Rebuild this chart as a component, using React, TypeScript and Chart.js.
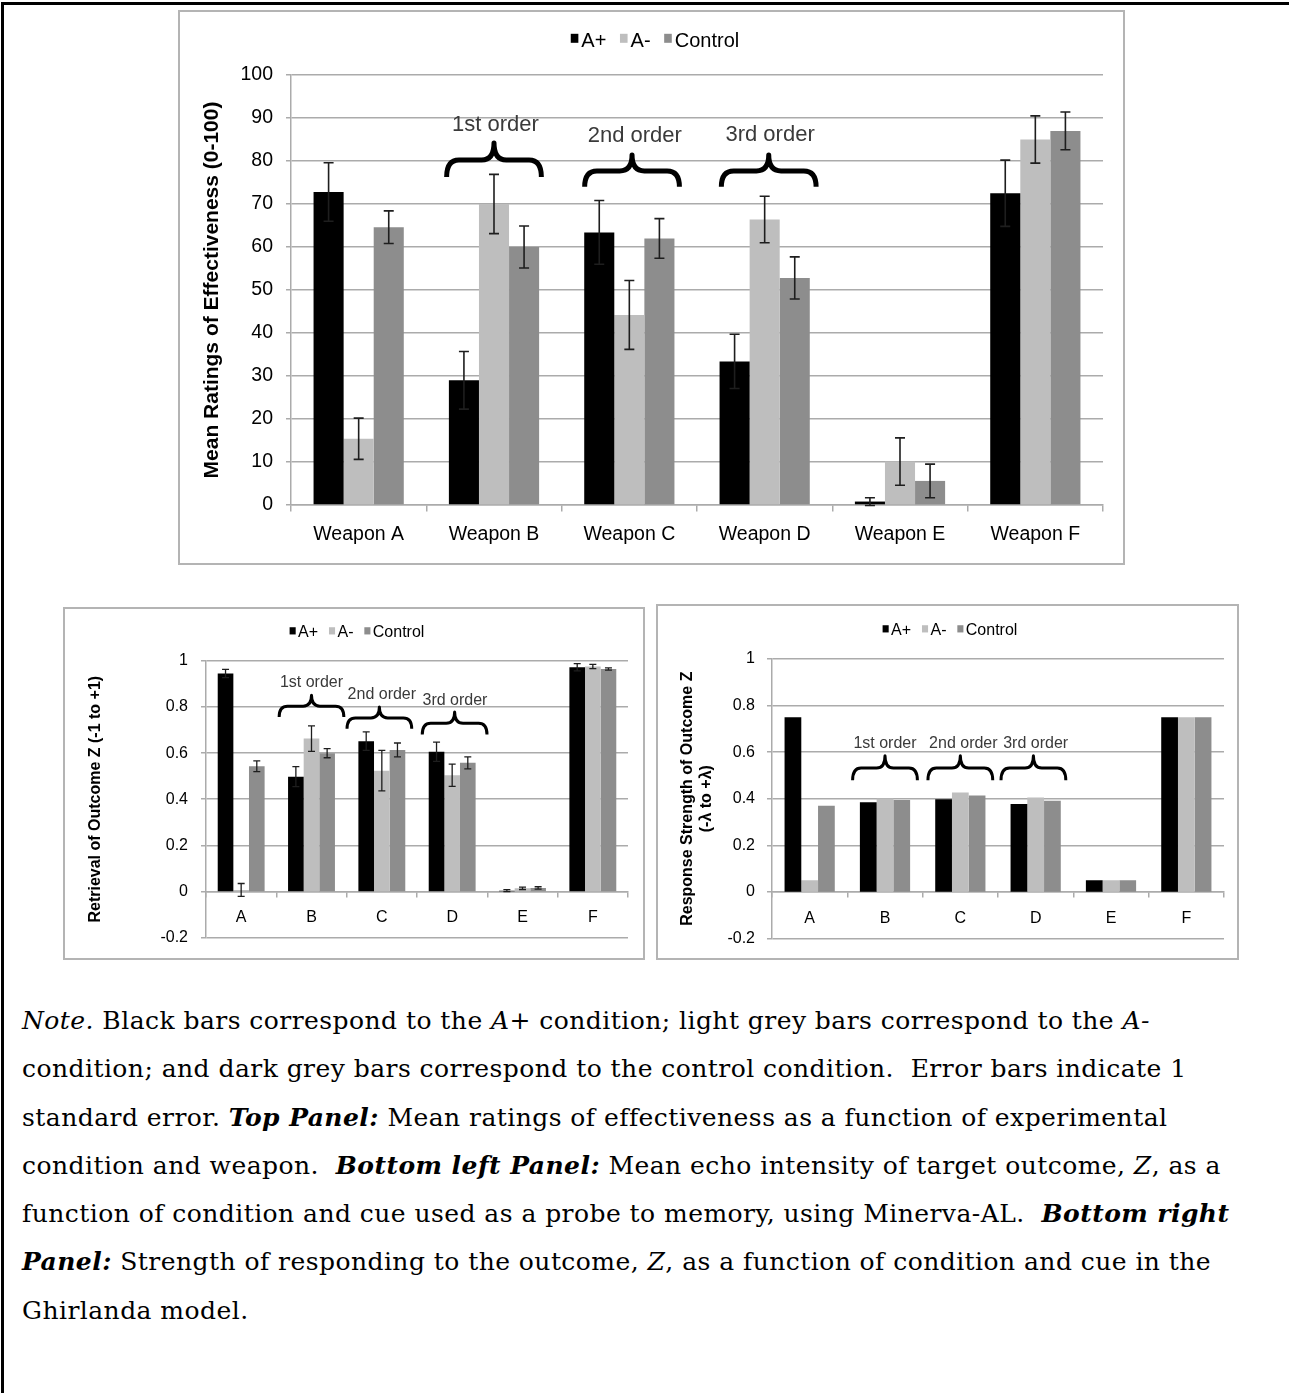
import React, { useEffect, useRef } from "react";
import { Chart, registerables } from "chart.js";

Chart.register(...registerables);

const FONT = "'Liberation Sans', Arial, Helvetica, sans-serif";

// ---------- data ----------
const SERIES_LABELS = ["A+", "A-", "Control"];
const SERIES_COLORS = ["#000000", "#bebebe", "#8d8d8d"];

const TOP_CATEGORIES = ["Weapon A", "Weapon B", "Weapon C", "Weapon D", "Weapon E", "Weapon F"];
const TOP_APLUS = [72.8, 29.0, 63.4, 33.4, 0.8, 72.5];
const TOP_AMINUS = [15.4, 70.0, 44.2, 66.4, 10.1, 85.0];
const TOP_CONTROL = [64.6, 60.0, 62.0, 52.8, 5.6, 87.0];
const TOP_APLUS_SE = [6.8, 6.7, 7.4, 6.3, 0.9, 7.7];
const TOP_AMINUS_SE = [4.8, 6.9, 8.0, 5.4, 5.5, 5.5];
const TOP_CONTROL_SE = [3.8, 4.9, 4.6, 4.9, 3.9, 4.4];
const TOP_Y_MIN = 0;
const TOP_Y_MAX = 100;
const TOP_Y_STEP = 10;

const BOTTOM_CATEGORIES = ["A", "B", "C", "D", "E", "F"];
const LEFT_APLUS = [0.946, 0.498, 0.652, 0.606, 0.003, 0.973];
const LEFT_AMINUS = [0.006, 0.663, 0.524, 0.504, 0.013, 0.976];
const LEFT_CONTROL = [0.543, 0.6, 0.614, 0.558, 0.015, 0.965];
const LEFT_APLUS_SE = [0.018, 0.043, 0.04, 0.042, 0.004, 0.016];
const LEFT_AMINUS_SE = [0.028, 0.055, 0.088, 0.048, 0.005, 0.009];
const LEFT_CONTROL_SE = [0.023, 0.02, 0.03, 0.026, 0.005, 0.005];

const RIGHT_APLUS = [0.75, 0.385, 0.398, 0.377, 0.05, 0.75];
const RIGHT_AMINUS = [0.05, 0.401, 0.427, 0.405, 0.05, 0.75];
const RIGHT_CONTROL = [0.37, 0.394, 0.414, 0.391, 0.05, 0.75];

const BOTTOM_Y_MIN = -0.2;
const BOTTOM_Y_MAX = 1;
const BOTTOM_Y_STEP = 0.2;

const ORDER_LABELS = ["1st order", "2nd order", "3rd order"];
const ORDER_CATEGORY = [1, 2, 3];

// ---------- panel configs ----------
type Brace = { index: number; label: string; dx: number; half: number; labelY: number; tipY: number; endY: number; textDx: number };

type PanelCfg = {
  left: number; top: number; width: number; height: number;
  categories: string[];
  values: number[][];
  errors?: number[][];
  yMin: number; yMax: number; yStep: number; yDecimals: number;
  yTitle: string | string[];
  pad: { top: number; right: number; bottom: number };
  yAxisWidth: number;
  tickFont: number; titleFont: number; legendFont: number; orderFont: number;
  titlePad: number;
  xTickLen: number; xTickPad: number; yTickLen: number; yTickPad: number;
  legendCx: number; legendCy: number;
  braces: Brace[];
  braceWidth: number;
  errCap: number; errWidth: number;
};

const mkBraces = (labelY: number[], tipY: number[], endY: number[], half: number, dx: number[], textDx: number[]): Brace[] =>
  ORDER_LABELS.map((label, i) => ({ index: ORDER_CATEGORY[i], label, dx: dx[i], half, labelY: labelY[i], tipY: tipY[i], endY: endY[i], textDx: textDx[i] }));

const TOP_PANEL: PanelCfg = {
  left: 178, top: 10, width: 947, height: 555,
  categories: TOP_CATEGORIES,
  values: [TOP_APLUS, TOP_AMINUS, TOP_CONTROL],
  errors: [TOP_APLUS_SE, TOP_AMINUS_SE, TOP_CONTROL_SE],
  yMin: TOP_Y_MIN, yMax: TOP_Y_MAX, yStep: TOP_Y_STEP, yDecimals: 0,
  yTitle: "Mean Ratings of Effectiveness (0-100)",
  pad: { top: 65, right: 22, bottom: 60 },
  yAxisWidth: 113,
  tickFont: 19.5, titleFont: 21, legendFont: 20, orderFont: 22,
  titlePad: 22,
  xTickLen: 6, xTickPad: 12, yTickLen: 5, yTickPad: 13,
  legendCx: 477, legendCy: 31,
  braces: mkBraces([88.4, 85.8, 86.0], [84.2, 81.4, 81.4], [76.3, 74.0, 74.0], 0.35, [0, 0.02, 0.03], [0.01, 0.04, 0.04]),
  braceWidth: 5,
  errCap: 5, errWidth: 1.6,
};

const LEFT_PANEL: PanelCfg = {
  left: 63, top: 607, width: 582, height: 353,
  categories: BOTTOM_CATEGORIES,
  values: [LEFT_APLUS, LEFT_AMINUS, LEFT_CONTROL],
  errors: [LEFT_APLUS_SE, LEFT_AMINUS_SE, LEFT_CONTROL_SE],
  yMin: BOTTOM_Y_MIN, yMax: BOTTOM_Y_MAX, yStep: BOTTOM_Y_STEP, yDecimals: 1,
  yTitle: "Retrieval of Outcome Z (-1 to +1)",
  pad: { top: 54, right: 17, bottom: 18 },
  yAxisWidth: 143,
  tickFont: 16, titleFont: 16, legendFont: 16, orderFont: 16,
  titlePad: 23,
  xTickLen: 5, xTickPad: 12, yTickLen: 5, yTickPad: 13,
  legendCx: 294, legendCy: 26,
  braces: mkBraces([0.906, 0.855, 0.83], [0.851, 0.8, 0.779], [0.757, 0.706, 0.681], 0.46, [0, -0.035, 0.035], [0, 0, 0.04]),
  braceWidth: 3,
  errCap: 3.5, errWidth: 1.3,
};

const RIGHT_PANEL: PanelCfg = {
  left: 656, top: 604, width: 583, height: 356,
  categories: BOTTOM_CATEGORIES,
  values: [RIGHT_APLUS, RIGHT_AMINUS, RIGHT_CONTROL],
  yMin: BOTTOM_Y_MIN, yMax: BOTTOM_Y_MAX, yStep: BOTTOM_Y_STEP, yDecimals: 1,
  yTitle: ["Response Strength of Outcome Z", "(-\u03bb to +\u03bb)"],
  pad: { top: 55, right: 15, bottom: 18 },
  yAxisWidth: 116,
  tickFont: 16, titleFont: 16, legendFont: 16, orderFont: 16,
  titlePad: 22,
  xTickLen: 5, xTickPad: 12, yTickLen: 5, yTickPad: 12,
  legendCx: 294, legendCy: 27,
  braces: mkBraces([0.636, 0.636, 0.636], [0.585, 0.585, 0.585], [0.479, 0.479, 0.479], 0.43, [0, 0, -0.03], [0, 0.04, 0]),
  braceWidth: 3,
  errCap: 3.5, errWidth: 1.3,
};

const GRID_COLOR = "#ababab";
const TEXT_COLOR = "#000000";

// ---------- plugins ----------
function errorBarPlugin(cfg: PanelCfg) {
  return {
    id: "errorBars",
    afterDatasetsDraw(chart: any) {
      if (!cfg.errors) return;
      const { ctx } = chart;
      const ys = chart.scales.y;
      ctx.save();
      ctx.strokeStyle = "#1e1e1e";
      ctx.lineWidth = cfg.errWidth;
      chart.data.datasets.forEach((ds: any, i: number) => {
        const se = cfg.errors![i];
        const meta = chart.getDatasetMeta(i);
        meta.data.forEach((bar: any, j: number) => {
          const v = ds.data[j];
          const e = se[j];
          const x = bar.x;
          const y1 = ys.getPixelForValue(v + e);
          const y2 = ys.getPixelForValue(v - e);
          ctx.beginPath();
          ctx.moveTo(x, y1);
          ctx.lineTo(x, y2);
          ctx.moveTo(x - cfg.errCap, y1);
          ctx.lineTo(x + cfg.errCap, y1);
          ctx.moveTo(x - cfg.errCap, y2);
          ctx.lineTo(x + cfg.errCap, y2);
          ctx.stroke();
        });
      });
      ctx.restore();
    },
  };
}

function bracePlugin(cfg: PanelCfg) {
  return {
    id: "braces",
    afterDraw(chart: any) {
      const { ctx } = chart;
      const xs = chart.scales.x;
      const ys = chart.scales.y;
      const cw = xs.getPixelForValue(1) - xs.getPixelForValue(0);
      ctx.save();
      cfg.braces.forEach((b) => {
        const xm = xs.getPixelForValue(b.index) + b.dx * cw;
        const xl = xm - b.half * cw;
        const xr = xm + b.half * cw;
        const yt = ys.getPixelForValue(b.tipY);
        const ye = ys.getPixelForValue(b.endY);
        const yb = (yt + ye) / 2;
        const r = (xr - xl) * 0.13;
        ctx.strokeStyle = "#000";
        ctx.lineWidth = cfg.braceWidth;
        ctx.lineCap = "butt";
        ctx.lineJoin = "round";
        ctx.beginPath();
        ctx.moveTo(xl, ye);
        ctx.quadraticCurveTo(xl, yb, xl + r, yb);
        ctx.lineTo(xm - r, yb);
        ctx.quadraticCurveTo(xm, yb, xm, yt);
        ctx.quadraticCurveTo(xm, yb, xm + r, yb);
        ctx.lineTo(xr - r, yb);
        ctx.quadraticCurveTo(xr, yb, xr, ye);
        ctx.stroke();
        ctx.fillStyle = "#3a3a3a";
        ctx.font = `${cfg.orderFont}px ${FONT}`;
        ctx.textAlign = "center";
        ctx.textBaseline = "middle";
        ctx.fillText(b.label, xs.getPixelForValue(b.index) + b.textDx * cw, ys.getPixelForValue(b.labelY));
      });
      ctx.restore();
    },
  };
}

function legendPlugin(cfg: PanelCfg) {
  return {
    id: "customLegend",
    afterDraw(chart: any) {
      const { ctx } = chart;
      const fs = cfg.legendFont;
      ctx.save();
      ctx.font = `${fs}px ${FONT}`;
      ctx.textBaseline = "middle";
      ctx.textAlign = "left";
      const bw = fs * 0.38;
      const bh = fs * 0.45;
      const gapBox = fs * 0.15;
      const gapItem = fs * 0.68;
      const items = chart.data.datasets.map((ds: any) => ({ label: ds.label, color: ds.backgroundColor, w: ctx.measureText(ds.label).width }));
      const total = items.reduce((s: number, it: any) => s + bw + gapBox + it.w, 0) + gapItem * (items.length - 1);
      let x = cfg.legendCx - total / 2;
      const cy = cfg.legendCy;
      items.forEach((it: any) => {
        ctx.fillStyle = it.color;
        ctx.fillRect(x, cy - fs * 0.36, bw, bh);
        x += bw + gapBox;
        ctx.fillStyle = TEXT_COLOR;
        ctx.fillText(it.label, x, cy);
        x += it.w + gapItem;
      });
      ctx.restore();
    },
  };
}

// ---------- chart panel ----------
function BarPanel({ cfg }: { cfg: PanelCfg }) {
  const ref = useRef<HTMLCanvasElement | null>(null);
  useEffect(() => {
    const canvas = ref.current;
    if (!canvas) return;
    const chart = new Chart(canvas, {
      type: "bar",
      data: {
        labels: cfg.categories,
        datasets: SERIES_LABELS.map((label, i) => ({
          label,
          data: cfg.values[i],
          backgroundColor: SERIES_COLORS[i],
          borderWidth: 0,
          categoryPercentage: 2 / 3,
          barPercentage: 1,
        })),
      },
      options: {
        responsive: false,
        animation: false,
        devicePixelRatio: 1,
        layout: { padding: { top: cfg.pad.top, right: cfg.pad.right, bottom: cfg.pad.bottom, left: 0 } },
        plugins: { legend: { display: false }, tooltip: { enabled: false }, title: { display: false } },
        scales: {
          x: {
            type: "category",
            position: { y: 0 } as any,
            offset: true,
            grid: {
              display: true,
              drawOnChartArea: false,
              drawTicks: true,
              tickLength: cfg.xTickLen,
              color: GRID_COLOR,
              lineWidth: 1.5,
              offset: true,
            },
            border: { display: true, color: GRID_COLOR, width: 1.5 },
            ticks: { font: { family: FONT, size: cfg.tickFont }, color: TEXT_COLOR, padding: cfg.xTickPad, maxRotation: 0, autoSkip: false },
          },
          y: {
            type: "linear",
            position: "left",
            min: cfg.yMin,
            max: cfg.yMax,
            ticks: {
              stepSize: cfg.yStep,
              font: { family: FONT, size: cfg.tickFont },
              color: TEXT_COLOR,
              padding: cfg.yTickPad,
              callback: (v: any) => String(Number(Number(v).toFixed(cfg.yDecimals))),
            },
            grid: { color: GRID_COLOR, lineWidth: 1.5, drawTicks: true, tickLength: cfg.yTickLen },
            border: { display: true, color: GRID_COLOR, width: 1.5 },
            title: {
              display: true,
              text: cfg.yTitle as any,
              color: TEXT_COLOR,
              font: { family: FONT, size: cfg.titleFont, weight: "bold", lineHeight: 1.2 },
              padding: { top: cfg.titlePad, bottom: 0 },
            },
            afterFit: (scale: any) => {
              scale.width = cfg.yAxisWidth;
            },
          },
        },
      } as any,
      plugins: [errorBarPlugin(cfg), bracePlugin(cfg), legendPlugin(cfg)],
    });
    return () => chart.destroy();
  }, [cfg]);

  return (
    <>
      <div
        style={{
          position: "absolute",
          left: cfg.left,
          top: cfg.top,
          width: cfg.width,
          height: cfg.height,
          boxSizing: "border-box",
          border: "2px solid #b4b4b4",
        }}
      />
      <canvas
        ref={ref}
        width={cfg.width}
        height={cfg.height}
        style={{ position: "absolute", left: cfg.left, top: cfg.top, width: cfg.width, height: cfg.height }}
      />
    </>
  );
}

function Note() {
  const b = { fontWeight: 700, fontStyle: "italic" as const };
  return (
    <div
      style={{
        position: "absolute",
        left: 22,
        top: 997,
        fontFamily: "'DejaVu Serif', 'Liberation Serif', serif",
        fontSize: 25,
        letterSpacing: "0.45px",
        lineHeight: "48.3px",
        color: "#000",
        whiteSpace: "pre",
      }}
    >
      <div><i>Note.</i> Black bars correspond to the <i>A+</i> condition; light grey bars correspond to the <i>A-</i></div>
      <div>condition; and dark grey bars correspond to the control condition.  Error bars indicate 1</div>
      <div>standard error. <span style={b}>Top Panel:</span> Mean ratings of effectiveness as a function of experimental</div>
      <div>condition and weapon.  <span style={b}>Bottom left Panel:</span> Mean echo intensity of target outcome, <i>Z</i>, as a</div>
      <div>function of condition and cue used as a probe to memory, using Minerva-AL.  <span style={b}>Bottom right</span></div>
      <div><span style={b}>Panel:</span> Strength of responding to the outcome, <i>Z</i>, as a function of condition and cue in the</div>
      <div>Ghirlanda model.</div>
    </div>
  );
}

export default function App() {
  return (
    <div style={{ position: "absolute", left: 0, top: 0, width: 1289, height: 1393, background: "#fff", overflow: "hidden" }}>
      <div
        style={{
          position: "absolute",
          left: 1,
          top: 2,
          width: 1288,
          height: 1391,
          boxSizing: "border-box",
          borderTop: "3px solid #000",
          borderLeft: "3px solid #000",
        }}
      />
      <BarPanel cfg={TOP_PANEL} />
      <BarPanel cfg={LEFT_PANEL} />
      <BarPanel cfg={RIGHT_PANEL} />
      <Note />
    </div>
  );
}
